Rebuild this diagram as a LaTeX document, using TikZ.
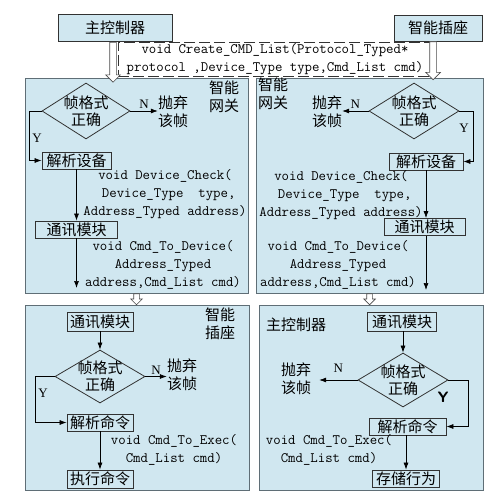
\documentclass[tikz,border=0pt]{standalone}
\usepackage{fontspec}
\setmainfont{Liberation Serif}
\newfontfamily\cjk{Noto Sans CJK SC}
\usetikzlibrary{shapes.geometric, shapes.arrows, arrows.meta}

\definecolor{panelblue}{RGB}{208,231,240}
\definecolor{panelline}{RGB}{95,110,118}
\definecolor{boxline}{RGB}{50,50,50}

\tikzset{
  panel/.style={draw=panelline, fill=panelblue, line width=0.8pt},
  blk/.style={draw=boxline, fill=panelblue, line width=0.8pt, inner sep=1pt,
    minimum height=17pt, font=\cjk\fontsize{15}{17}\selectfont},
  judge/.style={diamond, draw=boxline, line width=0.8pt, aspect=1.6, inner sep=-3pt,
    minimum width=88pt, minimum height=56pt, align=center,
    font=\cjk\fontsize{15}{17}\selectfont},
  note/.style={align=center, inner sep=0pt, font=\cjk\fontsize{15}{18}\selectfont},
  code/.style={align=center, inner sep=0pt, font=\ttfamily\fontsize{14.4}{18}\selectfont},
  lab/.style={inner sep=1pt, font=\fontsize{13}{13}\selectfont},
  apibox/.style={code, draw=black!80, line width=0.7pt, dash pattern=on 11pt off 4pt},
  flow/.style={-{Latex[length=7pt,width=5pt]}, line width=0.7pt},
  hollow/.style={single arrow, draw=black!70, fill=white, line width=0.7pt,
    rotate=-90, anchor=tail, inner sep=3pt, single arrow head extend=4pt},
}

\begin{document}
\begin{tikzpicture}[x=1pt,y=-1pt]
  \path[fill=white, use as bounding box] (0,0) rectangle (502,502);

  % four panels
  \node(gwL)[panel,minimum width=223pt,minimum height=215pt] at (136.5,185.5){};
  \node(gwR)[panel,minimum width=227pt,minimum height=215pt] at (369.5,185.5){};
  \node(plug)[panel,minimum width=224pt,minimum height=185pt] at (137,397.5){};
  \node(ctrl)[panel,minimum width=224pt,minimum height=185pt] at (371,397.5){};

  % top
  \node(ctrlTop)[blk,minimum width=114pt,minimum height=27pt] at (115,28){主控制器};
  \node(plugTop)[blk,minimum width=88pt,minimum height=26pt] at (438,28){智能插座};
  \node(api)[apibox,minimum width=314pt,minimum height=34pt] at (275,59)
    {void Create\_CMD\_List(Protocol\_Typed*\\protocol ,Device\_Type type,Cmd\_List cmd)};
  \node[hollow,minimum height=40pt] at ([xshift=-2pt]ctrlTop.south){};
  \node[hollow,minimum height=38pt] at ([xshift=-5pt]plugTop.south){};
  \node[hollow,minimum height=11pt,inner sep=2.5pt,single arrow head extend=3pt] at (gwL.south){};
  \node[hollow,minimum height=11pt,inner sep=2.5pt,single arrow head extend=3pt] at (gwR.south){};

  % gateway, left
  \node[note] at (224,97){智能\\网关};
  \node(dGwL)[judge] at (86,111){帧格式\\正确};
  \node(dropL)[note] at (173,112){抛弃\\该帧};
  \node(parseDevL)[blk,minimum width=69pt] at (76.5,160.5){解析设备};
  \node(commL)[blk,minimum width=82pt] at (76.5,229.5){通讯模块};
  \node(chkL)[code] at (165,194){void Device\_Check(\\~Device\_Type~~type,\\Address\_Typed address)};
  \node(sendL)[code] at (163,265){void Cmd\_To\_Device(\\Address\_Typed\\address,Cmd\_List cmd)};
  \coordinate(endL) at (76.5,288);
  \node[lab] at (37,138){Y};
  \draw[flow](dGwL.east) -- node[lab,above=1pt]{N} (dGwL.east -| dropL.west);
  \draw[flow](dGwL.west) -- ++(-12,0) |- (parseDevL.west);
  \draw[flow](parseDevL.south) -- (parseDevL.south |- commL.north);
  \draw[flow](commL.south) -- (endL);

  % gateway, right
  \node[note] at (273,94){智能\\网关};
  \node(dGwR)[judge,minimum width=90pt] at (414,111){帧格式\\正确};
  \node(dropR)[note] at (327,112){抛弃\\该帧};
  \node(parseDevR)[blk,minimum width=74pt] at (426,161.5){解析设备};
  \node(commR)[blk,minimum width=81pt] at (424.5,227){通讯模块};
  \node(chkR)[code] at (341,195){void Device\_Check(\\~Device\_Type~~type,\\Address\_Typed address)};
  \node(sendR)[code] at (338,265){void Cmd\_To\_Device(\\Address\_Typed\\address,Cmd\_List cmd)};
  \coordinate(endR) at (426,290);
  \node[lab] at (464,128){Y};
  \draw[flow](dGwR.west) -- node[lab,above=1pt]{N} (dGwR.west -| dropR.east);
  \draw[flow](dGwR.east) -- ++(14,0) |- (parseDevR.east);
  \draw[flow](parseDevR.south) -- (parseDevR.south |- commR.north);
  \draw[flow](parseDevR.south |- commR.south) -- (endR);

  % smart plug
  \node[note] at (220,324){智能\\插座};
  \node(commPl)[blk,minimum width=66pt,minimum height=19pt] at (100,321.5){通讯模块};
  \node(dPl)[judge,minimum width=90pt,minimum height=53pt] at (100,376.5){帧格式\\正确};
  \node(dropPl)[note] at (182,375){抛弃\\该帧};
  \node(parseCmdPl)[blk,minimum width=66pt] at (100,422.5){解析命令};
  \node(execPl)[blk,minimum width=66pt,minimum height=18pt] at (100,479){执行命令};
  \node(execCodePl)[code] at (174,450){void Cmd\_To\_Exec(\\Cmd\_List cmd)};
  \node[lab] at (43,393){Y};
  \draw[flow](commPl.south) -- (dPl.north);
  \draw[flow](dPl.east) -- node[lab,above=1pt]{N} (dPl.east -| dropPl.west);
  \draw[flow](dPl.west) -- ++(-19,0) |- (parseCmdPl.west);
  \draw[flow](parseCmdPl.south) -- (execPl.north);

  % main controller
  \node[note] at (296,325){主控制器};
  \node(commCt)[blk,minimum width=69pt,minimum height=19pt] at (402,321.5){通讯模块};
  \node(dCt)[judge,minimum width=90pt,minimum height=54pt] at (403,380){帧格式\\正确};
  \node(dropCt)[note] at (296,379){抛弃\\该帧};
  \node(parseCmdCt)[blk,minimum width=77pt] at (407.5,426.5){解析命令};
  \node(storeCt)[blk,minimum width=67pt] at (406,478.5){存储行为};
  \node(execCodeCt)[code] at (329,450){void Cmd\_To\_Exec(\\Cmd\_List cmd)};
  \node[lab,font=\sffamily\bfseries\fontsize{15}{15}\selectfont] at (443,397){Y};
  \draw[flow](commCt.south -| dCt.north) -- (dCt.north);
  \draw[flow](dCt.west) -- node[lab,above=6pt]{N} ([xshift=8pt]dCt.west -| dropCt.east);
  \draw[flow](dCt.east) -- ++(20,0) |- (parseCmdCt.east);
  \draw[flow](storeCt.north |- parseCmdCt.south) -- (storeCt.north);
\end{tikzpicture}
\end{document}
